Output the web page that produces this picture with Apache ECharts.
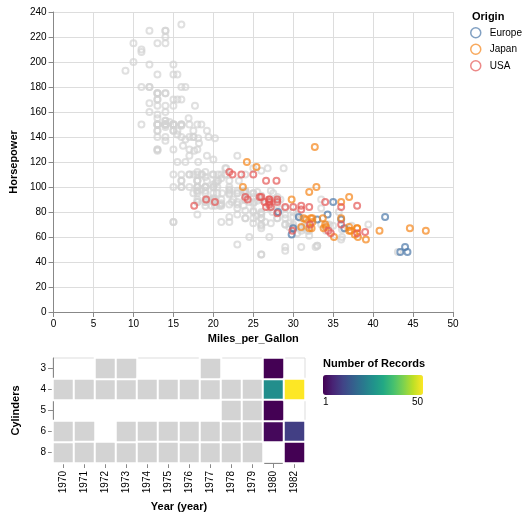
<!DOCTYPE html>
<html>
<head>
<meta charset="utf-8">
<script src="https://cdn.jsdelivr.net/npm/echarts@6/dist/echarts.min.js"></script>
<style>
html,body{margin:0;padding:0;background:#fff;}
#chart{width:531px;height:519px;}
</style>
</head>
<body>
<div id="chart"></div>
<script>
// ---- tick labels / categories ----
const YEARS = [1970, 1971, 1972, 1973, 1974, 1975, 1976, 1977, 1978, 1979, 1980, 1982];
const CYLINDERS = [3, 4, 5, 6, 8];
const SELECTED_YEARS = [1980, 1982];
const ORIGINS = ['Europe', 'Japan', 'USA'];
const ORIGIN_CODES = { E: 'Europe', J: 'Japan', U: 'USA' };
const ORIGIN_COLORS = ['#4c78a8', '#f58518', '#e45756'];
const X_TICKS = [0, 5, 10, 15, 20, 25, 30, 35, 40, 45, 50];
const Y_TICKS = [0, 20, 40, 60, 80, 100, 120, 140, 160, 180, 200, 220, 240];
const VIRIDIS = ['#440154', '#482475', '#414487', '#355f8d', '#2a788e', '#21918c', '#22a884', '#44bf70', '#7ad151', '#bddf26', '#fde725'];

// ---- data: one inner list per entry of YEARS ----
const MPG = [
  [18,15,18,16,17,15,14,14,14,15,15,14,15,14,24,22,18,21,27,26,25,24,25,26,21,10,10,11,9,null,null,null,null,null,null],
  [27,28,25,25,19,16,17,19,18,14,14,14,14,12,13,13,18,22,19,18,23,28,30,30,31,35,27,26,null],
  [24,25,23,20,21,13,14,15,14,17,11,13,12,13,19,15,13,13,14,18,22,21,26,22,28,23,28,27],
  [13,14,13,14,15,12,13,13,14,13,12,13,18,16,18,18,23,26,11,12,13,12,18,20,21,22,18,19,21,26,15,16,29,24,20,19,15,24,20,11],
  [20,21,19,15,31,26,32,25,16,16,18,16,13,14,14,14,29,26,26,31,32,28,24,26,24,26,31],
  [19,18,15,15,16,15,16,14,17,16,15,18,21,20,13,29,23,20,23,24,25,24,18,29,19,23,23,22,25,33],
  [28,25,25,26,27,17.5,16,15.5,14.5,22,22,24,22.5,29,24.5,29,33,20,18,18.5,17.5,29.5,32,28,26.5,20,13,19,19,16.5,16.5,13,13,13],
  [31.5,30,36,25.5,33.5,17.5,17,15.5,15,17.5,20.5,19,18.5,16,15.5,15.5,16,29,24.5,26,25.5,30.5,33.5,30,30.5,22,21.5,21.5],
  [43.1,36.1,32.8,39.4,36.1,19.9,19.4,20.2,19.2,20.5,20.2,25.1,20.5,19.4,20.6,20.8,18.6,18.1,19.2,17.7,18.1,17.5,30,27.5,27.2,30.9,21.1,23.2,23.8,23.9,20.3,17,21.6,16.2,31.5,29.5],
  [21.5,19.8,22.3,20.2,20.6,17,17.6,16.5,18.2,16.9,15.5,19.2,18.5,31.9,34.1,35.7,27.4,25.4,23,27.2,23.9,34.2,34.5,31.8,37.3,28.4,28.8,26.8,33.5],
  [41.5,38.1,32.1,37.2,28,26.4,24.3,19.1,34.3,29.8,31.3,37,32.2,46.6,27.9,40.8,44.3,43.4,36.4,30,44.6,40.9,33.8,29.8,32.7,23.7,35,23.6,32.4],
  [27.2,26.6,25.8,23.5,30,39.1,39,35.1,32.3,37,37.7,34.1,34.7,34.4,29.9,33,34.5,33.7,32.4,32.9,31.6,28.1,30.7,25.4,24.2,22.4,26.6,20.2,17.6,null,
   28,27,34,31,29,27,24,23,36,37,31,38,36,36,36,34,38,32,38,25,38,26,22,32,36,27,27,44,32,28,31]
];
const HORSEPOWER = [
  [130,165,150,150,140,198,220,215,225,190,170,160,150,225,95,95,97,85,88,46,87,90,95,113,90,215,200,210,193,115,165,153,175,175,140],
  [88,90,95,null,100,105,100,88,100,165,175,153,150,180,170,175,110,72,100,88,86,90,70,76,65,69,60,70,48],
  [95,80,54,90,86,165,175,150,153,150,208,155,160,190,97,150,130,140,150,112,76,87,69,86,92,97,80,88],
  [175,150,145,137,150,198,150,158,150,215,225,175,105,100,100,88,95,46,150,167,170,180,100,88,72,94,90,85,107,90,145,230,49,75,91,112,150,110,122,180],
  [95,null,100,100,67,80,65,75,100,110,105,140,150,150,140,150,83,67,78,52,61,75,75,75,97,93,67],
  [95,105,72,72,170,145,150,148,110,105,110,95,110,110,129,75,83,100,78,96,71,97,97,70,90,95,88,98,115,53],
  [86,81,92,79,83,140,150,120,152,100,105,81,90,52,60,70,53,100,78,110,95,71,70,75,72,102,150,88,108,120,180,145,130,150],
  [68,80,58,96,70,145,110,145,130,110,105,100,98,180,170,190,149,78,88,75,89,63,83,67,78,97,110,110],
  [48,66,52,70,60,110,140,139,105,95,85,88,100,90,105,85,110,120,145,165,139,140,68,95,97,75,95,105,85,97,103,125,115,133,71,68],
  [115,85,88,90,110,130,129,138,135,155,142,125,150,71,65,80,80,77,125,71,90,70,70,65,69,90,115,115,90],
  [76,60,70,65,90,88,90,90,78,90,75,92,75,65,105,65,48,48,67,67,67,null,67,62,132,100,88,null,72],
  [84,84,92,110,84,58,64,60,67,65,62,68,63,65,65,74,null,75,75,100,74,80,76,116,120,110,105,88,85,110,
   88,88,88,85,84,90,92,null,74,68,68,63,70,88,75,70,67,67,67,110,85,92,112,96,84,90,86,52,84,79,82]
];
const CYL = [
  [8,8,8,8,8,8,8,8,8,8,8,8,8,8,4,6,6,6,4,4,4,4,4,4,6,8,8,8,8,4,8,8,8,8,8],
  [4,4,4,4,6,6,6,6,6,8,8,8,8,8,8,8,6,4,6,6,4,4,4,4,4,4,4,4,4],
  [4,4,4,4,4,8,8,8,8,8,8,8,8,8,3,8,8,8,8,4,4,4,4,4,4,4,4,4],
  [8,8,8,8,8,8,8,8,8,8,8,8,6,6,6,6,6,4,8,8,8,8,6,4,4,4,3,4,6,4,8,8,4,4,4,4,8,4,6,8],
  [6,6,6,6,4,4,4,4,6,6,6,8,8,8,8,8,4,4,4,4,4,4,4,4,4,4,4],
  [6,6,6,6,8,8,8,8,6,6,6,6,6,8,8,4,4,6,4,4,4,4,6,4,6,4,4,4,4,4],
  [4,4,4,4,4,8,8,8,8,6,6,6,6,4,4,4,4,6,6,6,6,4,4,4,4,4,8,4,6,6,8,8,8,8],
  [4,4,4,4,4,8,8,8,8,6,6,6,6,8,8,8,8,4,4,4,4,4,4,4,4,6,4,3],
  [4,4,4,4,4,8,8,8,6,6,6,4,6,6,6,6,6,6,8,6,8,8,4,4,4,4,4,4,4,4,5,6,4,6,4,4],
  [6,6,4,6,6,8,8,8,8,8,8,8,8,4,4,4,4,5,8,4,8,4,4,4,4,4,6,6,4],
  [4,4,4,4,4,4,4,6,4,4,4,4,4,4,4,4,4,4,5,4,4,4,4,4,6,3,4,4,4],
  [4,4,4,6,4,4,4,4,4,4,4,4,4,4,4,4,4,4,4,4,4,4,6,6,6,6,8,6,6,4,
   4,4,4,4,4,4,4,4,4,4,4,4,4,4,4,4,4,4,4,6,6,4,6,4,4,4,4,4,4,4,4]
];
// E = Europe, J = Japan, U = USA (one letter per car)
const ORIGIN = [
  'UUUUUUUUUUUUUUJUUUJEEEEEUUUUUEUUUUU',
  'JUJUUUUUUUUUUUUUUUUUUEEEJJEUE',
  'JUEUUUUUUUUUUUJUUUUEEEEUJJUJ',
  'UUUUUUUUUUUUUUUUUEUUUUUJUJJUUEUUEEEEUEJU',
  'UUUUJUJUUUUUUUUUEEEJJUEEJJE',
  'UUUUUUUUUUUUUUUJUUUJEJUEUEEEEJ',
  'EEUUEUUUUUUUUUUEJUUUUEJJUEUEJEUUUU',
  'JUEUJUUUUUUUUUUUUEUJUUUJEJEJ',
  'EUJJJUUUUUUUUUUUUUUUUUUJJUJUUJEEEEEJ',
  'UUUUUUUUUUUUUEJUUEUEUUUJEUUUU',
  'EJUJUUUUEJJJJJUJEEEEJEJEJJEUJ',
  'UUUUUJUJJJJJUUUEEJJJJEEJJUUUUE' + 'UUUUUUUUEJJUUJJJJJJUUUUJUUUEUUU'
];

// ---- derived data ----
const grayPts = [];
const originPts = { Europe: [], Japan: [], USA: [] };
const counts = {};
YEARS.forEach((yr, yi) => {
  MPG[yi].forEach((m, i) => {
    const h = HORSEPOWER[yi][i];
    const c = CYL[yi][i];
    const o = ORIGIN_CODES[ORIGIN[yi][i]];
    const key = yi + '|' + CYLINDERS.indexOf(c);
    counts[key] = (counts[key] || 0) + 1;
    if (m == null || h == null) return;
    if (SELECTED_YEARS.includes(yr)) originPts[o].push([m, h]);
    else grayPts.push([m, h]);
  });
});
const selCells = [], grayCells = [];
let cMin = Infinity, cMax = -Infinity;
Object.keys(counts).forEach(k => {
  const [xi, ci] = k.split('|').map(Number);
  const v = counts[k];
  cMin = Math.min(cMin, v); cMax = Math.max(cMax, v);
  if (SELECTED_YEARS.includes(YEARS[xi])) selCells.push([xi, ci, v]);
  else grayCells.push([xi, ci, v]);
});

const FONT = '"Liberation Sans", Arial, Helvetica, sans-serif';
const axisCommon = {
  axisLine: { show: true, lineStyle: { color: '#888', width: 1 } },
  axisTick: { show: true, length: 5, lineStyle: { color: '#888' } },
  axisLabel: { fontSize: 10, color: '#000', margin: 7, fontFamily: FONT },
  nameTextStyle: { fontSize: 11, fontWeight: 'bold', color: '#000', fontFamily: FONT },
  nameLocation: 'middle'
};

const chart = echarts.init(document.getElementById('chart'), null, { renderer: 'canvas' });
const option = {
  animation: false,
  backgroundColor: '#fff',
  textStyle: { fontFamily: FONT },
  grid: [
    { left: 53, top: 12, width: 400, height: 300 },
    { left: 53, top: 358, width: 252, height: 105, show: true, borderColor: '#ddd', borderWidth: 1, backgroundColor: 'transparent' }
  ],
  xAxis: [
    Object.assign({}, axisCommon, {
      type: 'value', gridIndex: 0, min: X_TICKS[0], max: X_TICKS[X_TICKS.length - 1], interval: X_TICKS[1] - X_TICKS[0],
      name: 'Miles_per_Gallon', nameGap: 21,
      splitLine: { show: true, lineStyle: { color: '#ddd' } }
    }),
    Object.assign({}, axisCommon, {
      type: 'category', gridIndex: 1, data: YEARS.map(String),
      name: 'Year (year)', nameGap: 38,
      axisTick: { show: true, length: 5, alignWithLabel: true, lineStyle: { color: '#888' } },
      axisLabel: { fontSize: 10, color: '#000', margin: 8, rotate: 90, fontFamily: FONT, interval: 0 },
      splitLine: { show: false }
    })
  ],
  yAxis: [
    Object.assign({}, axisCommon, {
      type: 'value', gridIndex: 0, min: Y_TICKS[0], max: Y_TICKS[Y_TICKS.length - 1], interval: Y_TICKS[1] - Y_TICKS[0],
      name: 'Horsepower', nameGap: 30, nameRotate: 90,
      splitLine: { show: true, lineStyle: { color: '#ddd' } }
    }),
    Object.assign({}, axisCommon, {
      type: 'category', gridIndex: 1, data: CYLINDERS.map(String), inverse: true,
      name: 'Cylinders', nameGap: 32, nameRotate: 90,
      axisTick: { show: true, length: 5, alignWithLabel: true, lineStyle: { color: '#888' } },
      splitLine: { show: false }
    })
  ],
  legend: {
    data: ORIGINS, orient: 'vertical', left: 470, top: 27, padding: 0,
    itemWidth: 10, itemHeight: 10, itemGap: 5, icon: 'circle', selectedMode: false,
    itemStyle: { borderWidth: 1.5 },
    textStyle: { fontSize: 10, color: '#000', fontFamily: FONT, padding: [0, 0, 0, 4] }
  },
  visualMap: {
    type: 'continuous', seriesIndex: 5, dimension: 2, min: cMin, max: cMax,
    inRange: { color: VIRIDIS }, orient: 'horizontal', left: 323, top: 375,
    itemWidth: 20, itemHeight: 100, calculable: false, padding: 0, hoverLink: false,
    text: null, showLabel: false
  },
  graphic: [
    { type: 'text', left: 472, top: 11, style: { text: 'Origin', font: 'bold 11px ' + FONT, fill: '#000' } },
    { type: 'text', left: 323, top: 358, style: { text: 'Number of Records', font: 'bold 11px ' + FONT, fill: '#000' } },
    { type: 'text', x: 323, y: 402, style: { text: String(cMin), font: '10px ' + FONT, fill: '#000', textAlign: 'left', textVerticalAlign: 'middle' } },
    { type: 'text', x: 423, y: 402, style: { text: String(cMax), font: '10px ' + FONT, fill: '#000', textAlign: 'right', textVerticalAlign: 'middle' } }
  ],
  series: [
    {
      type: 'scatter', name: 'other', xAxisIndex: 0, yAxisIndex: 0, data: grayPts,
      symbol: 'circle', symbolSize: 6, silent: true,
      itemStyle: { color: 'rgba(0,0,0,0)', borderColor: '#d3d3d3', borderWidth: 2, opacity: 0.7 }
    }
  ].concat(ORIGINS.map((o, i) => ({
    type: 'scatter', name: o, xAxisIndex: 0, yAxisIndex: 0, data: originPts[o],
    symbol: 'circle', symbolSize: 6, silent: true,
    itemStyle: { color: 'rgba(0,0,0,0)', borderColor: ORIGIN_COLORS[i], borderWidth: 2, opacity: 0.7 }
  }))).concat([
    {
      type: 'heatmap', xAxisIndex: 1, yAxisIndex: 1, data: grayCells, silent: true,
      itemStyle: { color: '#d3d3d3', borderColor: '#fff', borderWidth: 2 }
    },
    {
      type: 'heatmap', xAxisIndex: 1, yAxisIndex: 1, data: selCells, silent: true,
      itemStyle: { borderColor: '#fff', borderWidth: 2 }
    }
  ])
};
chart.setOption(option);
</script>
</body>
</html>
